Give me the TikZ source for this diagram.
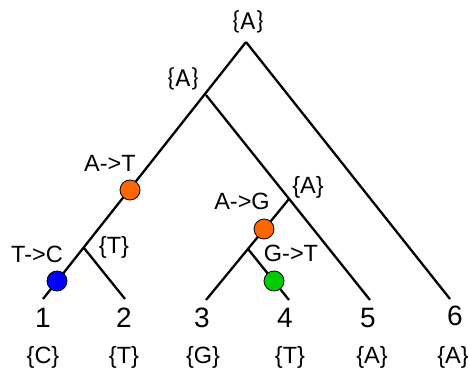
\documentclass[tikz,border=0pt]{standalone}
\usepackage{fontspec}
\setmainfont{Liberation Sans}
\newfontfamily\calfont{Carlito}
\usetikzlibrary{positioning, calc}

\definecolor{mutorange}{HTML}{FF6600}
\definecolor{mutblue}{HTML}{0000FF}
\definecolor{mutgreen}{HTML}{00CC00}

\begin{document}
\begin{tikzpicture}[
  x=1pt, y=-1pt,
  ramo/.style={draw=black, line width=2.3pt},
  mutazione/.style={circle, draw=black, line width=0.8pt, minimum size=20pt, inner sep=0pt},
  etichetta/.style={font=\fontsize{23.5}{26}\selectfont, inner sep=0pt},
  stato/.style={font=\calfont\fontsize{26}{28}\selectfont, inner sep=0pt},
  foglia/.style={font=\fontsize{28}{30}\selectfont, inner sep=0pt}
]
\useasboundingbox (0,0) rectangle (468,374);

% nodi interni
\coordinate (r) at (246,42);
\coordinate (a) at (206,95);
\coordinate (b) at (84,248);
\coordinate (c) at (289,199);
\coordinate (d) at (248,249);

% foglie
\coordinate (l1) at (43,299);
\coordinate (l2) at (125,299);
\coordinate (l3) at (206,300);
\coordinate (l4) at (289,300);
\coordinate (l5) at (370,300);
\coordinate (l6) at (450,299);

% rami
\draw[ramo] (r) -- (l1);
\draw[ramo] (r) -- (l6);
\draw[ramo] (a) -- (l5);
\draw[ramo] (b) -- (l2);
\draw[ramo] (c) -- (l3);
\draw[ramo] (d) -- (l4);

% mutazioni
\node[mutazione, fill=mutorange] (m1) at (130,190) {};
\node[mutazione, fill=mutblue]   (m2) at (57,281) {};
\node[mutazione, fill=mutorange] (m3) at (264,229) {};
\node[mutazione, fill=mutgreen]  (m4) at (274,281) {};

\node[etichetta] (t1) at (110,163) {A->T};
\node[etichetta] (t2) at (37,254) {T->C};
\node[etichetta] (t3) at (242,201) {A->G};
\node[etichetta] (t4) at (291,253) {G->T};

% stati ancestrali
\node[stato] (sr) at (248,22) {\{A\}};
\node[stato] (sa) at (183,79) {\{A\}};
\node[etichetta] (sb) at (114,247) {\{T\}};
\node[etichetta] (sc) at (308,187) {\{A\}};

% numeri delle foglie
\node[foglia] (n1) at (43,318) {1};
\node[foglia] (n2) at (124,318) {2};
\node[foglia] (n3) at (202,318) {3};
\node[foglia] (n4) at (285,318) {4};
\node[foglia] (n5) at (368,318) {5};
\node[foglia] (n6) at (455,316) {6};

% stati osservati
\node[etichetta] (o1) at (43,357) {\{C\}};
\node[etichetta] (o2) at (124,357) {\{T\}};
\node[etichetta] (o3) at (203,357) {\{G\}};
\node[etichetta] (o4) at (290,357) {\{T\}};
\node[etichetta] (o5) at (372,357) {\{A\}};
\node[etichetta] (o6) at (453,357) {\{A\}};

\end{tikzpicture}
\end{document}
